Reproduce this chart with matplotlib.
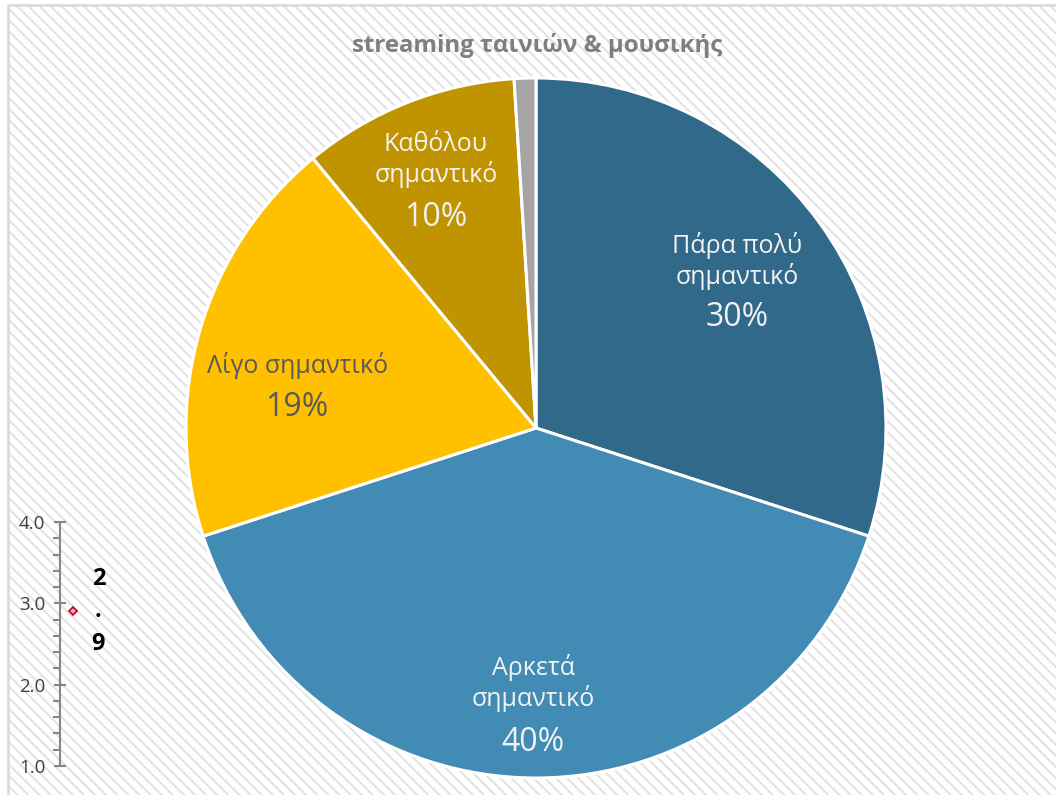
import matplotlib
matplotlib.use("Agg")
import matplotlib.pyplot as plt
from matplotlib.patches import Rectangle
import numpy as np

plt.rcParams['font.family'] = ['Open Sans', 'DejaVu Sans']
plt.rcParams['hatch.linewidth'] = 1.5

# ---- data ----
title = "streaming ταινιών & μουσικής"
categories = ["Πάρα πολύ\nσημαντικό", "Αρκετά\nσημαντικό", "Λίγο σημαντικό",
              "Καθόλου\nσημαντικό", ""]
values = [30, 40, 19, 10, 1]
pct_labels = ["30%", "40%", "19%", "10%", ""]
mean_value = [2.9]
mean_label = "2\n.\n9"
scale_ticks = [1.0, 2.0, 3.0, 4.0]

# ---- style ----
colors = ['#31698A', '#428BB5', '#FFC000', '#C09400', '#A5A5A5']
text_colors = ['#F2F2F2', '#F2F2F2', '#595959', '#F2F2F2', '#F2F2F2']
label_r = [0.655, 0.90, 0.685, 0.665, 0]
label_dang = [-7.3, -0.5, 11.4, 3.9, 0]
cat_offset_px = [57, 60, 42, 58, 0]

W, H = 1056, 795
fig = plt.figure(figsize=(W / 100, H / 100), dpi=100)

# background with hatch
bg = Rectangle((8 / W, -0.02), 1.05, 1 - 5 / H + 0.02, transform=fig.transFigure,
               facecolor='white', edgecolor='#E3E3E3', hatch='\\\\\\', linewidth=0, zorder=-10)
fig.patches.append(bg)
border = Rectangle((8 / W, -0.02), 1.05, 1 - 5 / H + 0.02, transform=fig.transFigure,
                   facecolor='none', edgecolor='#D9D9D9', linewidth=1.8, zorder=-9)
fig.patches.append(border)

# pie axes
cx, cy, R = 536, 428, 350
ax = fig.add_axes([(cx - R) / W, (H - cy - R) / H, 2 * R / W, 2 * R / H])
wedges, _ = ax.pie(values, colors=colors, startangle=90, counterclock=False, radius=1.0,
                   wedgeprops=dict(edgecolor='white', linewidth=2.2))
ax.set_xlim(-1, 1)
ax.set_ylim(-1, 1)
ax.axis('off')

for w, cat, pct, tc, r, da, off in zip(wedges, categories, pct_labels, text_colors,
                                       label_r, label_dang, cat_offset_px):
    if not pct:
        continue
    ang = np.deg2rad((w.theta1 + w.theta2) / 2 + da)
    x, y = r * np.cos(ang), r * np.sin(ang)
    ax.text(x, y, pct, ha='center', va='center', fontsize=23, color=tc)
    ax.annotate(cat, (x, y), xytext=(0, off * 0.72), textcoords='offset points',
                ha='center', va='center', fontsize=18, color=tc, linespacing=1.2)

fig.text(537 / W, 1 - 45 / H, title, ha='center', va='center', fontsize=17.3,
         fontweight='bold', color='#7F7F7F')

# small scale axis
ax2 = fig.add_axes([60 / W, (H - 766) / H, 70 / W, 244 / H])
ax2.set_ylim(1.0, 4.0)
ax2.set_xlim(0, 1)
ax2.patch.set_alpha(0)
for s in ['top', 'right', 'bottom']:
    ax2.spines[s].set_visible(False)
ax2.spines['left'].set_color('#868686')
ax2.spines['left'].set_linewidth(1.5)
ax2.set_xticks([])
ax2.set_yticks(scale_ticks)
ax2.set_yticklabels([f"{t:.1f}" for t in scale_ticks])
ax2.set_yticks(np.arange(1.2, 4.0, 0.2), minor=True)
ax2.tick_params(axis='y', which='major', direction='inout', length=9, width=1.5,
                color='#868686', labelsize=13.5, labelcolor='#404040', pad=6)
ax2.tick_params(axis='y', which='minor', direction='out', length=5, width=1.5,
                color='#868686')
ax2.plot([0.19], mean_value, marker='D', markersize=4, color='#C0002F',
         markerfacecolor='#F4B0BC', markeredgewidth=1.2, linestyle='none', clip_on=False)
ax2.text(0.55, mean_value[0], mean_label, ha='center', va='center', fontsize=17,
         fontweight='bold', color='black', linespacing=1.45)

fig.savefig("out.png", dpi=100)
